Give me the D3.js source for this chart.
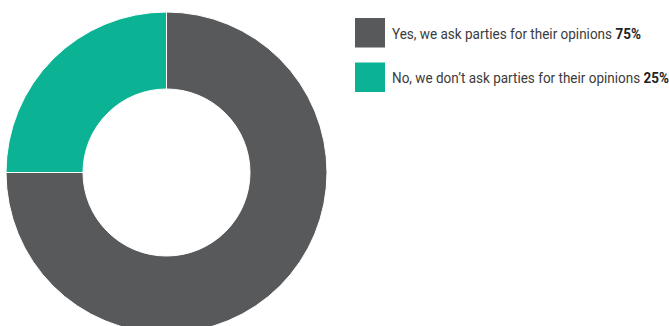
<!DOCTYPE html>
<html><head><meta charset="utf-8">
<script src="https://cdn.jsdelivr.net/npm/d3@7"></script>
<style>html,body{margin:0;padding:0;background:#fff;overflow:hidden}</style>
</head><body>
<svg id="chart" width="669" height="326"></svg>
<script>
const categories = ["Yes, we ask parties for their opinions", "No, we don\u2019t ask parties for their opinions"];
const values = [75, 25];
const valueLabels = ["75%", "25%"];
const colors = ["#58595b", "#0bb394"];

const svg = d3.select("#chart");
const cx = 166.5, cy = 172.5, outerR = 160.5, innerR = 83.5;

const pie = d3.pie().sort(null).value(d => d)(values);
const arc = d3.arc().innerRadius(innerR).outerRadius(outerR);

svg.append("g").attr("transform", `translate(${cx},${cy})`)
  .selectAll("path").data(pie).join("path")
  .attr("d", arc)
  .attr("fill", (d, i) => colors[i])
  .attr("stroke", "#fff").attr("stroke-width", 1);

const targetEnd = [637.7, 665.7];
const leg = svg.append("g");
categories.forEach((c, i) => {
  const y = 18 + i * 44.5;
  leg.append("rect").attr("x", 355).attr("y", y).attr("width", 30).attr("height", 29.5).attr("fill", colors[i]);
  const t = leg.append("text")
    .attr("font-family", "Roboto, 'Liberation Sans', sans-serif").attr("font-size", 14)
    .attr("fill", "#3b3b3b");
  t.append("tspan").text(c);
  t.append("tspan").attr("dx", 3.5).attr("font-weight", 700).attr("fill", "#222").text(valueLabels[i]);
  const w = t.node().getComputedTextLength();
  const s = (targetEnd[i] - 392) / w;
  t.attr("transform", `translate(392,${y + 20.5}) scale(${s},1)`);
});
</script>
</body></html>
